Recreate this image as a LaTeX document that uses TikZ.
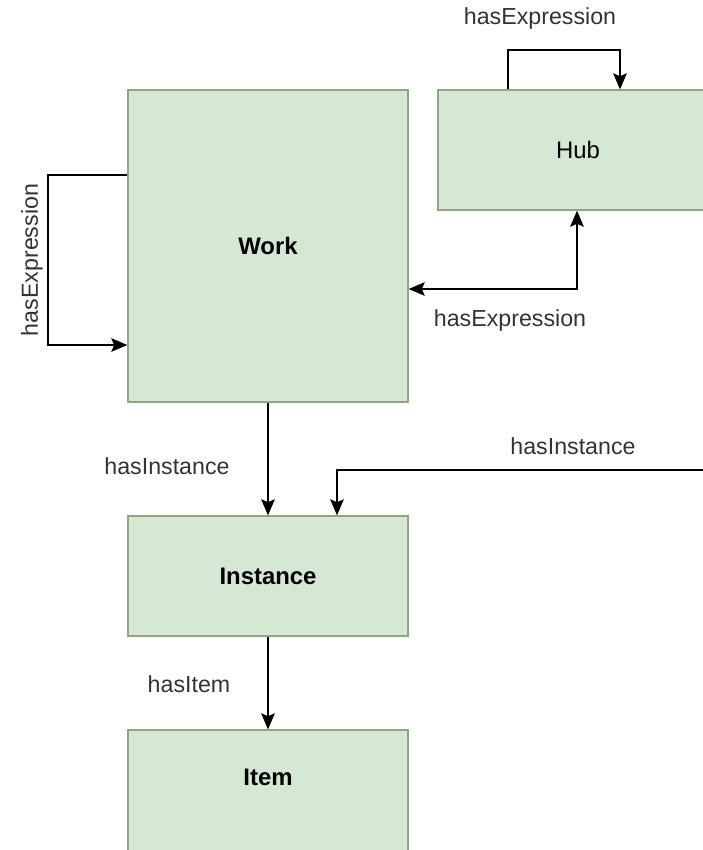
\documentclass[tikz,border=0pt]{standalone}
\usepackage{fontspec}
\setmainfont{Liberation Sans}
\usetikzlibrary{calc,positioning,arrows.meta}
\definecolor{boxfill}{HTML}{D5E8D4}
\definecolor{boxline}{HTML}{8FA882}

\begin{document}
\begin{tikzpicture}[
    x=0.025cm,y=-0.025cm,
    box/.style={draw=boxline,line width=0.9pt,fill=boxfill,
      minimum width=7cm,minimum height=3cm,font=\fontsize{17}{20}\selectfont\bfseries},
    boxtall/.style={box,minimum height=7.8cm},
    link/.style={draw=black,line width=1.1pt,-{Stealth[length=4mm,width=3.4mm,inset=0.7mm]}},
    linklbl/.style={inner sep=1pt,text=black!80,font=\fontsize{16.5}{20}\selectfont},
  ]

  \useasboundingbox (0,0) rectangle (703,850);
  \clip (0,0) rectangle (703,850);

  \node (work) at (268,246) [boxtall] {Work};
  \node (hub) at (578,150) [box,font=\fontsize{17}{20}\selectfont] {Hub};
  \node (inst) at (268,576) [box] {Instance};
  \node (item) at (268,794) [box,minimum height=3.2cm,text depth=0.85cm] {Item};

  \coordinate (ext) at (703,470);

  % work loop

  \draw[link] (work.west |- 0,175) -- (48,175) -- (48,345) -- (work.west |- 0,345);
  \node (lw) at (32,260) [linklbl,rotate=90] {hasExpression};

  % hub loop

  \draw[link] (508,0 |- hub.north) -- (508,50) -- (620,50) -- (620,0 |- hub.north);
  \node (lh) at (540,18) [linklbl] {hasExpression};

  % hub <-> work

  \draw[link,{Stealth[length=4mm,width=3.4mm,inset=0.7mm]}-{Stealth[length=4mm,width=3.4mm,inset=0.7mm]}]
    (work.east |- 0,289) -- (577,289) -- (577,0 |- hub.south);
  \node (lhw) at (510,320) [linklbl] {hasExpression};

  % down the chain

  \draw[link] (work.south) -- (inst.north);
  \node (lwi) at (167,466) [linklbl] {hasInstance};

  \draw[link] (ext) -- (337,470) -- (337,0 |- inst.north);
  \node (lei) at (573,446) [linklbl] {hasInstance};

  \draw[link] (inst.south) -- (item.north);
  \node (lii) at (189,684) [linklbl] {hasItem};

\end{tikzpicture}
\end{document}
